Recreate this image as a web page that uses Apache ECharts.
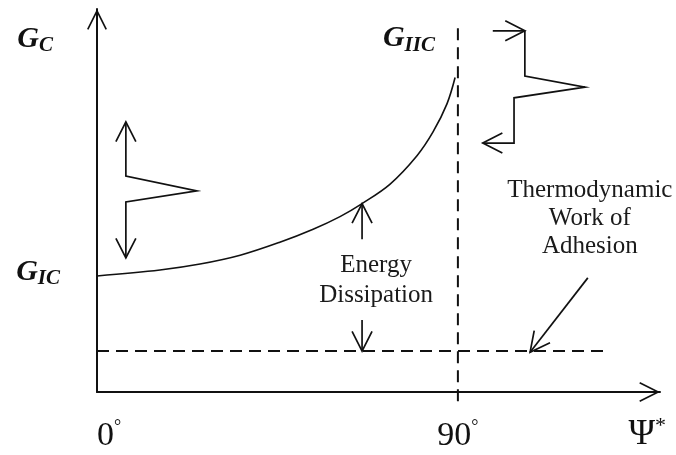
<!DOCTYPE html>
<html><head><meta charset="utf-8">
<script src="https://cdn.jsdelivr.net/npm/echarts@6/dist/echarts.min.js"></script>
<style>html,body{margin:0;padding:0;background:#fff}#c{width:676px;height:455px}</style>
</head><body><div id="c"></div>
<script>
// ---- values (x: mode mixity angle Psi* in degrees, y: G in arbitrary units 0..100) ----
const psiCurve = [0, 15.7, 25.7, 35.7, 45.6, 53.9, 60.6, 66.1, 73.1, 79.8, 83.8, 87.3, 89.3];
const gcCurve  = [30.3, 31.85, 33.4, 35.7, 39.1, 42.5, 45.8, 49.2, 54.3, 61.7, 67.9, 75.3, 82.1];
const workAdhesionG = 10.7;
const workAdhesionPsi = [0, 126.7];
const psiLimit = 90;
const limitG = [95, -3.9];
const xTickValues = [0, 90];
const xMax = 140.4;
const yMax = 100;

// annotation arrows (data units)
const modeIArrowPsi = [7.2, 7.2, 24.9, 7.2, 7.2];
const modeIArrowG   = [70.5, 56.4, 52.5, 49.6, 35.0];
const modeIITopPsi  = [98.7, 106.7];
const modeIITopG    = [94.3, 94.3];
const modeIIPsi     = [106.7, 106.7, 121.7, 104.0, 104.0, 96.2];
const modeIIG       = [94.3, 82.5, 79.6, 76.8, 65.0, 65.0];
const dissUpPsi     = [66.1, 66.1];
const dissUpG       = [39.9, 49.2];
const dissDownPsi   = [66.1, 66.1];
const dissDownG     = [18.8, 10.7];
const adhesionPsi   = [122.4, 108.0];
const adhesionG     = [29.8, 10.4];

// notes
const noteTexts = ['Energy\nDissipation', 'Thermodynamic\nWork of\nAdhesion'];
const notePsi = [69.6, 122.9];
const noteG = [29.1, 45.4];

const INK = '#111';
const SERIF = 'Liberation Serif';
const chevron = 'path://M0,0L10,20L8.52,20.74L0,3.69L-8.52,20.74L-10,20Z';

const arrows = [
  {psi: modeIArrowPsi, g: modeIArrowG, heads: ['start', 'end']},
  {psi: modeIITopPsi, g: modeIITopG, heads: ['end']},
  {psi: modeIIPsi, g: modeIIG, heads: ['end']},
  {psi: dissUpPsi, g: dissUpG, heads: ['end']},
  {psi: dissDownPsi, g: dissDownG, heads: ['end']},
  {psi: adhesionPsi, g: adhesionG, heads: ['end']}
];

function headShape(tip, from) {
  const len = 22, ang = 27 * Math.PI / 180;
  const dx = from[0] - tip[0], dy = from[1] - tip[1];
  const d = Math.hypot(dx, dy), ux = dx / d, uy = dy / d;
  const rot = a => [tip[0] + len * (ux * Math.cos(a) - uy * Math.sin(a)),
                    tip[1] + len * (ux * Math.sin(a) + uy * Math.cos(a))];
  return {type: 'polyline', shape: {points: [rot(ang), tip, rot(-ang)]},
          style: {stroke: INK, lineWidth: 1.7, fill: null}};
}

const boldItalic = (size, lh, va) => ({fontFamily: SERIF, fontWeight: 'bold', fontStyle: 'italic',
  fontSize: size, lineHeight: lh, verticalAlign: va, color: INK, fill: INK});

const labelMarks = [
  {text: '{g|G}{s|IC}', psi: 0, g: gcCurve[0], dx: -37, dy: -20.5, subLh: 18},
  {text: '{g|G}{s|IIC}', psi: psiLimit, g: limitG[0], dx: -23, dy: -6.5, subLh: 26}
];

const chart = echarts.init(document.getElementById('c'), null, {renderer: 'canvas'});
chart.setOption({
  animation: false,
  backgroundColor: '#fff',
  grid: {left: 97, right: 16, top: 9, bottom: 63, containLabel: false, outerBoundsMode: 'none'},
  xAxis: {
    type: 'value', min: 0, max: xMax, interval: 90,
    splitLine: {show: false}, axisTick: {show: false},
    axisLine: {onZero: false, lineStyle: {color: INK, width: 2},
      symbol: ['none', chevron], symbolSize: [20, 20.7], symbolOffset: [0, -10.35]},
    axisLabel: {
      margin: 26, alignMinLabel: 'left', showMaxLabel: false,
      formatter: v => xTickValues.includes(v) ? '{n|' + v + '}{d|°}' : '',
      rich: {
        n: {fontFamily: SERIF, fontSize: 34, lineHeight: 36, color: INK},
        d: {fontFamily: SERIF, fontSize: 18, lineHeight: 18, verticalAlign: 'top', color: INK}
      }
    },
    name: '{p|Ψ}{s|*}', nameLocation: 'end', nameGap: 6, nameMoveOverlap: false,
    nameTextStyle: {align: 'right', verticalAlign: 'top', padding: [23, 0, 0, 0],
      rich: {
        p: {fontFamily: SERIF, fontSize: 36, lineHeight: 40, color: INK},
        s: {fontFamily: SERIF, fontSize: 22, lineHeight: 22, verticalAlign: 'top', color: INK}
      }}
  },
  yAxis: {
    type: 'value', min: 0, max: yMax,
    splitLine: {show: false}, axisTick: {show: false}, axisLabel: {show: false},
    axisLine: {onZero: false, lineStyle: {color: INK, width: 2},
      symbol: ['none', chevron], symbolSize: [20, 20.7], symbolOffset: [0, -10.35]},
    name: '{g|G}{s|C}', nameLocation: 'end', nameGap: -13.5, nameMoveOverlap: false,
    nameTextStyle: {align: 'right', verticalAlign: 'top', padding: [0, 44, 0, 0],
      rich: {g: boldItalic(30, 34, 'middle'), s: boldItalic(21, 18, 'bottom')}}
  },
  series: [
    {
      name: 'G_C', type: 'line', smooth: 0.35, symbol: 'none', clip: false,
      data: psiCurve.map((p, i) => [p, gcCurve[i]]),
      lineStyle: {color: INK, width: 1.6}
    },
    {
      name: 'Thermodynamic work of adhesion', type: 'line', symbol: 'none', clip: false,
      data: workAdhesionPsi.map(p => [p, workAdhesionG]),
      lineStyle: {color: INK, width: 2, type: [12, 7]}
    },
    {
      name: 'Psi* = 90', type: 'line', symbol: 'none', clip: false,
      data: limitG.map(g => [psiLimit, g]),
      lineStyle: {color: INK, width: 2, type: [12, 7]}
    },
    {
      name: 'arrows', type: 'custom', clip: false, silent: true,
      data: arrows.map((a, i) => [a.psi[0], a.g[0], i]),
      renderItem: (params, api) => {
        const a = arrows[params.dataIndex];
        const pts = a.psi.map((p, k) => api.coord([p, a.g[k]]));
        const children = [{type: 'polyline', shape: {points: pts},
          style: {stroke: INK, lineWidth: 1.7, fill: null, lineJoin: 'miter'}}];
        if (a.heads.includes('start')) children.push(headShape(pts[0], pts[1]));
        if (a.heads.includes('end')) children.push(headShape(pts[pts.length - 1], pts[pts.length - 2]));
        return {type: 'group', children};
      }
    },
    {
      name: 'notes', type: 'custom', clip: false, silent: true,
      data: noteTexts.map((t, i) => [notePsi[i], noteG[i], i]),
      renderItem: (params, api) => {
        const pt = api.coord([api.value(0), api.value(1)]);
        return {type: 'text', x: pt[0], y: pt[1],
          style: {text: noteTexts[params.dataIndex], fontFamily: SERIF, fontSize: 25,
            lineHeight: params.dataIndex === 0 ? 30 : 28,
            align: 'center', verticalAlign: 'middle', fill: '#1a1a1a'}};
      }
    },
    {
      name: 'labels', type: 'custom', clip: false, silent: true,
      data: labelMarks.map((m, i) => [m.psi, m.g, i]),
      renderItem: (params, api) => {
        const m = labelMarks[params.dataIndex];
        const pt = api.coord([api.value(0), api.value(1)]);
        return {type: 'text', x: pt[0] + m.dx, y: pt[1] + m.dy,
          style: {text: m.text, align: 'right', verticalAlign: 'top', fill: INK,
            rich: {g: boldItalic(30, 34, 'middle'), s: boldItalic(21, m.subLh, 'bottom')}}};
      }
    }
  ]
});
</script>
</body></html>
